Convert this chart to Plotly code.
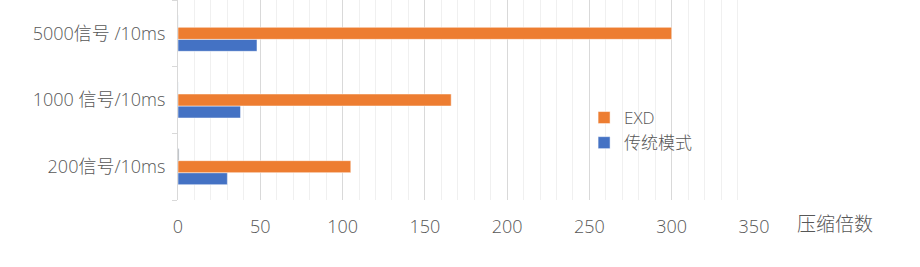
import plotly.graph_objects as go

categories = ["200信号/10ms", "1000 信号/10ms", "5000信号 /10ms"]
exd = [105, 166, 300]
traditional = [30, 38, 48]
hidden = [0.6, 0, 0]
x_ticks = [0, 50, 100, 150, 200, 250, 300, 350]

FONT = "Open Sans, Noto Sans CJK SC, sans-serif"
GRAY = "#575757"

fig = go.Figure()
fig.add_trace(go.Bar(y=categories, x=traditional, orientation="h", name="传统模式",
                     marker=dict(color="#4472C4", line=dict(color="#ffffff", width=0.5))))
fig.add_trace(go.Bar(y=categories, x=exd, orientation="h", name="EXD",
                     marker=dict(color="#ED7D31", line=dict(color="#ffffff", width=0.5))))
fig.add_trace(go.Bar(y=categories, x=hidden, orientation="h", name="",
                     showlegend=False, marker=dict(color="#A5A5A5")))

fig.update_layout(
    width=920, height=267,
    margin=dict(l=178, r=166, t=0, b=67),
    paper_bgcolor="white", plot_bgcolor="white",
    barmode="group", bargap=0.46, bargroupgap=0,
    font=dict(family=FONT, color=GRAY, size=18, weight=300),
    showlegend=True,
    legend=dict(x=0.705, y=0.5, xanchor="left", yanchor="top",
                traceorder="reversed", font=dict(size=17, color=GRAY, weight=300),
                itemwidth=30, bgcolor="rgba(0,0,0,0)", tracegroupgap=0),
    xaxis=dict(range=[0, 350], tickvals=x_ticks, showgrid=True, gridcolor="#d9d9d9",
               gridwidth=1, zeroline=False, showline=False,
               ticks="outside", ticklen=10, tickcolor="rgba(0,0,0,0)",
               tickfont=dict(size=18, color=GRAY, weight=300),
               minor=dict(dtick=10, showgrid=True, gridcolor="#f0f0f0", gridwidth=1)),
    yaxis=dict(type="category", showline=True, linecolor="#d9d9d9", linewidth=1,
               ticks="outside", tickson="boundaries", ticklen=5, tickcolor="#d9d9d9",
               showgrid=False, tickfont=dict(size=18, color=GRAY, weight=300),
               ticklabelstandoff=8),
    annotations=[dict(text="压缩倍数", x=(835 - 178) / 576, y=(200 - 224) / 200,
                      xref="paper", yref="paper", xanchor="center", yanchor="middle",
                      showarrow=False, font=dict(size=19, color=GRAY, weight=300))],
)

fig.write_html("out.html")
